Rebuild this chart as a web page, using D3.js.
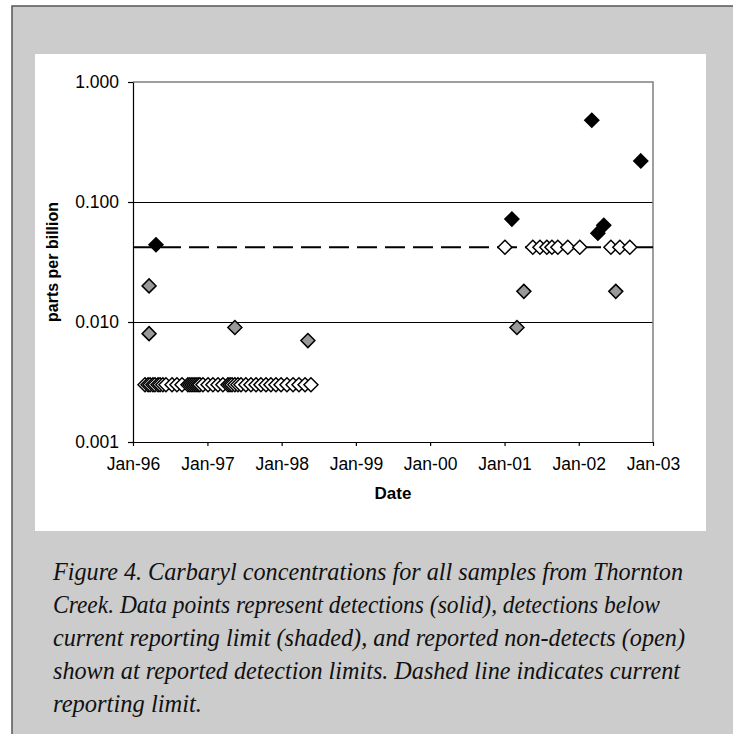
<!DOCTYPE html>
<html>
<head>
<meta charset="utf-8">
<script src="https://cdn.jsdelivr.net/npm/d3@7"></script>
<style>
  body { margin: 0; background: #fff; }
  svg { display: block; }
</style>
</head>
<body>
<svg width="733" height="734"></svg>
<script>
// carbaryl samples, Thornton Creek

// solid = detections
const detectDates = ["1996-04-23", "2001-02-06", "2002-03-06", "2002-04-05", "2002-05-04", "2002-11-02"];
const detectValues = [0.044, 0.072, 0.48, 0.055, 0.064, 0.22];

// shaded = detections below current reporting limit
const shadedDates = ["1996-03-20", "1996-03-20", "1997-05-16", "1998-05-10", "2001-03-03", "2001-04-06", "2002-07-02"];
const shadedValues = [0.020, 0.008, 0.009, 0.007, 0.009, 0.018, 0.018];

// open = non-detects at reported detection limit
const nondetectDates = [
  "1996-02-29", "1996-03-15", "1996-03-25", "1996-04-08", "1996-04-18", "1996-05-03", "1996-05-13",
  "1996-05-27", "1996-06-11", "1996-07-11", "1996-08-04", "1996-08-29", "1996-09-27", "1996-10-07",
  "1996-10-17", "1996-10-27", "1996-11-06", "1996-11-16", "1996-11-25", "1996-12-10", "1997-01-04",
  "1997-01-28", "1997-02-22", "1997-03-18", "1997-04-12", "1997-04-22", "1997-05-02", "1997-05-16",
  "1997-05-31", "1997-06-15", "1997-07-09", "1997-08-03", "1997-08-28", "1997-09-21", "1997-10-16",
  "1997-11-09", "1997-12-04", "1997-12-29", "1998-01-27", "1998-02-26", "1998-03-27", "1998-04-26",
  "1998-05-25",
  "2001-01-03", "2001-05-20", "2001-06-24", "2001-07-28", "2001-08-22", "2001-09-20", "2001-11-08",
  "2002-01-06", "2002-06-08", "2002-07-22", "2002-09-09"
];
const nondetectValues = [
  0.003, 0.003, 0.003, 0.003, 0.003, 0.003, 0.003,
  0.003, 0.003, 0.003, 0.003, 0.003, 0.003, 0.003,
  0.003, 0.003, 0.003, 0.003, 0.003, 0.003, 0.003,
  0.003, 0.003, 0.003, 0.003, 0.003, 0.003, 0.003,
  0.003, 0.003, 0.003, 0.003, 0.003, 0.003, 0.003,
  0.003, 0.003, 0.003, 0.003, 0.003, 0.003, 0.003,
  0.003,
  0.042, 0.042, 0.042, 0.042, 0.042, 0.042, 0.042,
  0.042, 0.042, 0.042, 0.042
];

const reportingLimit = 0.042;
const yTicks = [0.001, 0.01, 0.1, 1];
const gridValues = [0.01, 0.1];
const xDomain = ["1996-01-01", "2003-01-01"];

const captionLines = [
  "Figure 4. Carbaryl concentrations for all samples from Thornton",
  "Creek. Data points represent detections (solid), detections below",
  "current reporting limit (shaded), and reported non-detects (open)",
  "shown at reported detection limits. Dashed line indicates current",
  "reporting limit."
];
const captionWidths = [630, 607, 632, 627, 149];

const parse = d3.timeParse("%Y-%m-%d");
const plotLeft = 133, plotRight = 653, plotTop = 82, plotBottom = 442;
const fontSans = "'Liberation Sans', Arial, sans-serif";

let svg = d3.select("svg");

// grey frame + white chart panel
svg.append("rect")
  .attr("x", 12).attr("y", 6)
  .attr("width", 740).attr("height", 740)
  .attr("fill", "#cccccc")
  .attr("stroke", "#555").attr("stroke-width", 1.5);
svg.append("rect")
  .attr("x", 35).attr("y", 54)
  .attr("width", 671).attr("height", 477)
  .attr("fill", "#fff");

let x = d3.scaleTime()
  .domain(xDomain.map(parse))
  .range([plotLeft, plotRight]);
let y = d3.scaleLog()
  .domain([0.001, 1])
  .range([plotBottom, plotTop]);

// gridlines
svg.append("g").selectAll("line")
  .data(gridValues)
  .enter().append("line")
  .attr("x1", plotLeft).attr("x2", plotRight)
  .attr("y1", d => y(d)).attr("y2", d => y(d))
  .attr("stroke", "#000").attr("stroke-width", 1)
  .attr("shape-rendering", "crispEdges");

// plot area border, top + right
svg.append("path")
  .attr("d", `M${plotLeft},${y(1)}H${plotRight}V${plotBottom}`)
  .attr("fill", "none")
  .attr("stroke", "#808080").attr("stroke-width", 1.5);

// axes
let yAxis = svg.append("g")
  .attr("transform", `translate(${plotLeft},0)`)
  .call(d3.axisLeft(y).tickValues(yTicks).tickFormat(d3.format(".3f"))
    .tickSize(5).tickSizeOuter(0).tickPadding(9));
let xAxis = svg.append("g")
  .attr("transform", `translate(0,${plotBottom})`)
  .call(d3.axisBottom(x).ticks(d3.timeYear.every(1)).tickFormat(d3.timeFormat("%b-%y"))
    .tickSize(4).tickSizeOuter(0).tickPadding(12));

[yAxis, xAxis].forEach(a => {
  a.selectAll("text")
    .attr("font-family", fontSans)
    .attr("font-size", "17.5px")
    .attr("fill", "#000");
  a.selectAll("line, path").attr("stroke", "#000").attr("stroke-width", 1.2);
});

// reporting limit
svg.append("line")
  .attr("x1", plotLeft).attr("x2", plotRight)
  .attr("y1", y(reportingLimit)).attr("y2", y(reportingLimit))
  .attr("stroke", "#000").attr("stroke-width", 2)
  .attr("stroke-dasharray", "20,8");

const diamond = "M0,-7L7,0L0,7L-7,0Z";

function drawPoints(dates, values, fill) {
  svg.append("g").selectAll("path")
    .data(dates.map((d, i) => ({ date: parse(d), value: values[i] })))
    .enter().append("path")
    .attr("d", diamond)
    .attr("transform", d => `translate(${x(d.date)},${y(d.value)})`)
    .attr("fill", fill)
    .attr("stroke", "#000")
    .attr("stroke-width", 1.5);
}

drawPoints(nondetectDates, nondetectValues, "#fff");
drawPoints(shadedDates, shadedValues, "#999");
drawPoints(detectDates, detectValues, "#000");

// axis titles
svg.append("text")
  .attr("x", (plotLeft + plotRight) / 2)
  .attr("y", 499)
  .attr("text-anchor", "middle")
  .attr("font-family", fontSans)
  .attr("font-size", "17px")
  .attr("font-weight", "bold")
  .text("Date");

svg.append("text")
  .attr("transform", `translate(52,${(plotTop + plotBottom) / 2}) rotate(-90)`)
  .attr("dy", "0.35em")
  .attr("text-anchor", "middle")
  .attr("font-family", fontSans)
  .attr("font-size", "16px")
  .attr("font-weight", "bold")
  .text("parts per billion");

// caption
svg.append("g").selectAll("text")
  .data(captionLines)
  .enter().append("text")
  .attr("x", 53)
  .attr("y", (d, i) => 580 + i * 33)
  .attr("font-family", "'Liberation Serif', 'Times New Roman', serif")
  .attr("font-style", "italic")
  .attr("font-size", "25px")
  .attr("fill", "#111")
  .attr("textLength", (d, i) => captionWidths[i])
  .attr("lengthAdjust", "spacingAndGlyphs")
  .text(d => d);
</script>
</body>
</html>
